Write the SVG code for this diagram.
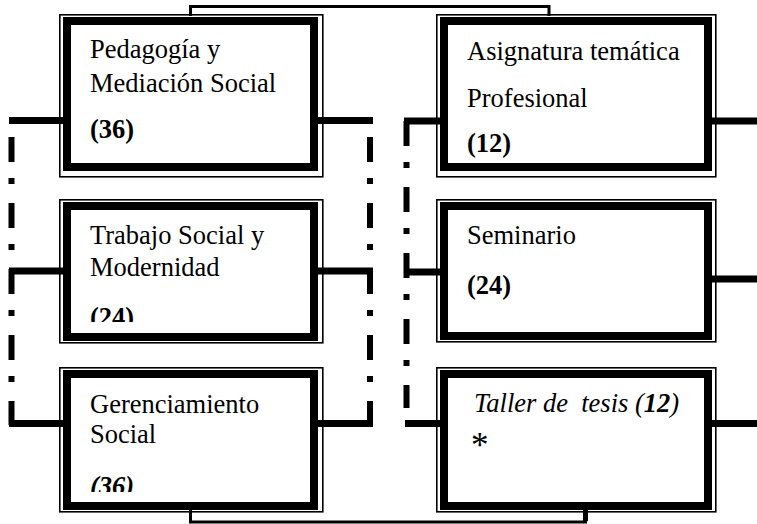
<svg xmlns="http://www.w3.org/2000/svg" width="757" height="524" viewBox="0 0 757 524">
<style>
.outer{fill:none;stroke:#000;stroke-width:1.6}
.thick{fill:#fff;stroke:#000;stroke-width:8}
.t{font-family:"Liberation Serif","Times New Roman",serif;font-size:26.5px;fill:#000}
.b{font-weight:bold}
.i{font-style:italic}
.stub{stroke:#000;stroke-width:7;fill:none}
.dash{stroke:#000;stroke-width:6;fill:none;stroke-dasharray:25 16 6 19}
.link{stroke:#000;stroke-width:3;fill:none}
</style>
<defs>
<clipPath id="c2"><rect x="60" y="190" width="260" height="132"/></clipPath>
<clipPath id="c3"><rect x="60" y="360" width="260" height="132"/></clipPath>
</defs>
<rect width="757" height="524" fill="#fff"/>
<g id="connectors">
<path class="link" d="M190.5 16 V6.5 H549 V16"/>
<path class="link" d="M190.5 510 V522 H585.5 V510"/>
<path d="M585.5 510 V521" stroke="#000" stroke-width="5"/>
<path class="stub" d="M9 120.5 H63 M317 120.5 H373"/>
<path class="stub" d="M9 271 H63 M317 271 H373"/>
<path class="stub" d="M9 423.5 H63 M317 423.5 H373"/>
<path class="dash" d="M11.5 137 V425"/>
<path class="dash" d="M370 137 V425"/>
<path class="stub" d="M404 121 H440 M712 121 H757"/>
<path class="stub" d="M404 272 H440 M712 279 H757"/>
<path class="stub" d="M405 423.5 H440 M712 423.5 H757"/>
<path class="dash" d="M406.5 121 V408"/>
</g>
<g id="n1">
<rect class="outer" x="59.8" y="14.8" width="263" height="162"/>
<rect class="thick" x="67" y="21" width="247" height="146"/>
<text class="t" x="90" y="58">Pedagogía y</text>
<text class="t" x="90" y="92">Mediación Social</text>
<text class="t b" x="90" y="138">(36)</text>
</g>
<g id="n2">
<rect class="outer" x="59.8" y="199.8" width="263" height="143"/>
<rect class="thick" x="67" y="206" width="247" height="131"/>
<text class="t" x="90" y="244">Trabajo Social y</text>
<text class="t" x="90" y="276">Modernidad</text>
<text class="t b" x="90" y="326" clip-path="url(#c2)">(24)</text>
</g>
<g id="n3">
<rect class="outer" x="59.8" y="367.8" width="263" height="144"/>
<rect class="thick" x="67" y="374" width="247" height="132"/>
<text class="t" x="90" y="413">Gerenciamiento</text>
<text class="t" x="90" y="443">Social</text>
<text class="t b i" x="90" y="495" clip-path="url(#c3)">(36)</text>
</g>
<g id="n4">
<rect class="outer" x="436.8" y="14.8" width="279" height="162"/>
<rect class="thick" x="444" y="21" width="264" height="146"/>
<text class="t" x="467" y="60">Asignatura temática</text>
<text class="t" x="467" y="107">Profesional</text>
<text class="t b" x="467" y="152">(12)</text>
</g>
<g id="n5">
<rect class="outer" x="436.8" y="199.8" width="279" height="142"/>
<rect class="thick" x="444" y="206" width="264" height="130"/>
<text class="t" x="467" y="244">Seminario</text>
<text class="t b" x="467" y="294">(24)</text>
</g>
<g id="n6">
<rect class="outer" x="436.8" y="367.8" width="279" height="144"/>
<rect class="thick" x="444" y="374" width="264" height="132"/>
<text class="t i" x="474" y="412" style="white-space:pre">Taller de  tesis (<tspan class="b">12</tspan>)</text>
<text class="t" x="471" y="457" style="font-size:35px">*</text>
</g>
</svg>
